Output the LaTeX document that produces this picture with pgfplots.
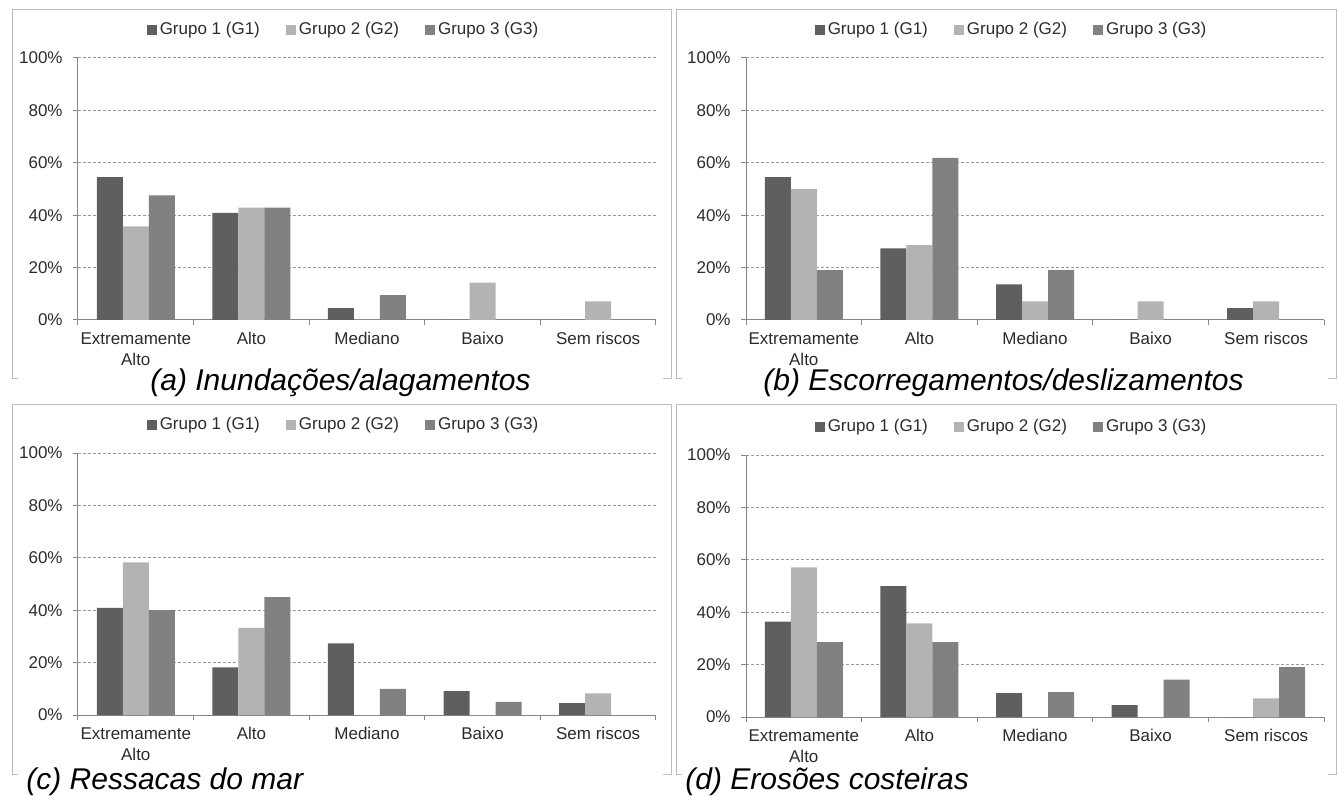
\documentclass[border=0pt]{standalone}
\usepackage{pgfplots}
\pgfplotsset{compat=1.18}
\usepackage{pgfplotstable}
\usepackage{fontspec}
\setmainfont{Liberation Sans}

\definecolor{gA}{HTML}{5F5F5F}
\definecolor{gB}{HTML}{B3B3B3}
\definecolor{gC}{HTML}{818181}
\definecolor{axisgray}{HTML}{868686}
\definecolor{gridgray}{HTML}{9A9A9A}
\definecolor{boxgray}{HTML}{BDBDBD}
\definecolor{txt}{HTML}{2B2B2B}

\pgfplotstableread{
c g1 g2 g3
0 54.5 35.7 47.6
1 40.9 42.9 42.9
2 4.5 0 9.5
3 0 14.3 0
4 0 7.1 0
}\dataA
\pgfplotstableread{
c g1 g2 g3
0 54.5 50.0 19.0
1 27.3 28.6 61.9
2 13.6 7.1 19.0
3 0 7.1 0
4 4.5 7.1 0
}\dataB
\pgfplotstableread{
c g1 g2 g3
0 40.9 58.3 40.0
1 18.2 33.3 45.0
2 27.3 0 10.0
3 9.1 0 5.0
4 4.5 8.3 0
}\dataC
\pgfplotstableread{
c g1 g2 g3
0 36.4 57.1 28.6
1 50.0 35.7 28.6
2 9.1 0 9.5
3 4.5 0 14.3
4 0 7.1 19.0
}\dataD

\pgfplotsset{
  barleg/.style={legend image code/.code={\fill[##1] (0pt,-2.6pt) rectangle (5pt,2.4pt);}},
  riskaxis/.style={
    width=289pt, height=131pt, scale only axis,
    anchor=south west,
    xmin=-0.5, xmax=4.5, ymin=0, ymax=100,
    axis x line*=bottom, axis y line*=left,
    axis line style={axisgray, line width=0.5pt},
    tick align=outside, major tick length=2.5pt,
    tick style={axisgray, line width=0.5pt},
    ytick={0,20,40,60,80,100},
    yticklabels={0\%,20\%,40\%,60\%,80\%,100\%},
    yticklabel style={font=\fontsize{8.5}{10.5}\selectfont, text=txt, inner sep=0pt, anchor=east, xshift=-5pt},
    ymajorgrids,
    grid style={gridgray, line width=0.5pt, dash pattern=on 1.5pt off 1pt},
    xtick={-0.5,0.5,1.5,2.5,3.5,4.5}, xticklabels={},
    extra x ticks={0,1,2,3,4},
    extra x tick labels={{Extremamente\\Alto},Alto,Mediano,Baixo,Sem riscos},
    extra x tick style={major tick length=0pt, grid=none,
      xticklabel style={font=\fontsize{8.5}{10.5}\selectfont, text=txt, align=center, inner sep=0pt, anchor=north, yshift=-6pt}},
    legend columns=3,
    legend style={draw=none, fill=none, inner sep=0pt, at={(0.4576,1.107)}, anchor=center,
      font=\fontsize{8.5}{10.5}\selectfont, text=txt,
      nodes={inner sep=0pt},
      /tikz/every odd column/.append style={column sep=1.5pt},
      /tikz/every even column/.append style={column sep=13pt}},
  },
}

\newcommand{\bars}[1]{%
  \addplot[ybar, barleg, bar width=13pt, bar shift=-13pt, fill=gA, draw=none] table[x=c,y=g1]{#1};
  \addplot[ybar, barleg, bar width=13pt, bar shift=0pt, fill=gB, draw=none] table[x=c,y=g2]{#1};
  \addplot[ybar, barleg, bar width=13pt, bar shift=13pt, fill=gC, draw=none] table[x=c,y=g3]{#1};
  \legend{Grupo 1 (G1),Grupo 2 (G2),Grupo 3 (G3)}
}

\begin{document}
\begin{tikzpicture}
\path[use as bounding box] (0pt,0pt) rectangle (669pt,-398pt);

% panel frames (bottom edge hidden behind captions except corners)
\draw[boxgray, line width=0.5pt] (9pt,-189.5pt) -- (6pt,-189.5pt) -- (6pt,-5pt) -- (335.5pt,-5pt) -- (335.5pt,-189.5pt) -- (331.5pt,-189.5pt);
\draw[boxgray, line width=0.5pt] (341pt,-189.5pt) -- (338pt,-189.5pt) -- (338pt,-5pt) -- (668pt,-5pt) -- (668pt,-189.5pt) -- (664pt,-189.5pt);
\draw[boxgray, line width=0.5pt] (9pt,-387pt) -- (6pt,-387pt) -- (6pt,-202.5pt) -- (335.5pt,-202.5pt) -- (335.5pt,-387pt) -- (331.5pt,-387pt);
\draw[boxgray, line width=0.5pt] (341pt,-387pt) -- (338pt,-387pt) -- (338pt,-202.5pt) -- (668pt,-202.5pt) -- (668pt,-387pt) -- (664pt,-387pt);

\begin{axis}[riskaxis, at={(39pt,-160pt)}]
\bars{\dataA}
\end{axis}
\begin{axis}[riskaxis, at={(373pt,-160pt)}]
\bars{\dataB}
\end{axis}
\begin{axis}[riskaxis, at={(39pt,-357.5pt)}]
\bars{\dataC}
\end{axis}
\begin{axis}[riskaxis, at={(373pt,-358.5pt)}]
\bars{\dataD}
\end{axis}

\node[anchor=base west, inner sep=0pt, font=\fontsize{15}{18}\selectfont\itshape] at (75pt,-195.5pt) {(a) Inundações/alagamentos};
\node[anchor=base west, inner sep=0pt, font=\fontsize{15}{18}\selectfont\itshape] at (381.5pt,-195.5pt) {(b) Escorregamentos/deslizamentos};
\node[anchor=base west, inner sep=0pt, font=\fontsize{15}{18}\selectfont\itshape] at (13pt,-394.5pt) {(c) Ressacas do mar};
\node[anchor=base west, inner sep=0pt, font=\fontsize{15}{18}\selectfont\itshape] at (342.5pt,-394.5pt) {(d) Erosões costeiras};
\end{tikzpicture}
\end{document}
